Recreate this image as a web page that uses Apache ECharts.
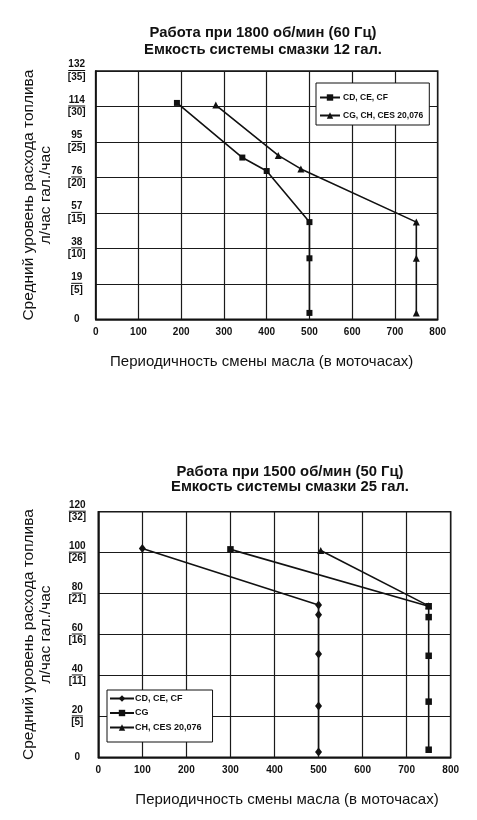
<!DOCTYPE html>
<html>
<head>
<meta charset="utf-8">
<script src="https://cdn.jsdelivr.net/npm/echarts@6/dist/echarts.min.js"></script>
<style>
    html, body { margin: 0; padding: 0; background: #fff; }
    .chart { width: 477px; height: 820px; }
</style>
</head>
<body>
<div class="chart"></div>
<script>
// верхний график: 1800 об/мин, ось Y в галлонах/час
var topLiterTicks = ['0', '19', '38', '57', '76', '95', '114', '132'];
var topGalTicks = ['', '[5]', '[10]', '[15]', '[20]', '[25]', '[30]', '[35]'];
var topCdX = [190, 343, 400, 500, 500, 500];
var topCdY = [30.5, 22.8, 20.9, 13.7, 8.6, 0.9];
var topCgX = [281, 427, 480, 750, 750, 750];
var topCgY = [30.2, 23.1, 21.2, 13.7, 8.6, 0.9];

// нижний график: 1500 об/мин, ось Y в литрах/час
var botLiterTicks = ['0', '20', '40', '60', '80', '100', '120'];
var botGalTicks = ['', '[5]', '[11]', '[16]', '[21]', '[26]', '[32]'];
var botCdX = [100, 500, 500, 500, 500, 500];
var botCdY = [102, 74.4, 69.7, 50.5, 25.1, 2.6];
var botCgX = [300, 750, 750, 750, 750, 750];
var botCgY = [101.6, 73.8, 68.5, 49.6, 27.2, 3.7];
var botChX = [505, 750];
var botChY = [101, 74];

var xTicks = [0, 100, 200, 300, 400, 500, 600, 700, 800];

var FONT = '"Liberation Sans", Arial, sans-serif';

function zip(xs, ys) {
    var out = [];
    for (var i = 0; i < xs.length; i++) out.push([xs[i], ys[i]]);
    return out;
}

function yLabel(liters, gals, step) {
    return function (v) {
        var i = Math.round(v / step);
        if (i === 0) return '{z|0}';
        var l = liters[i];
        return '{n|' + l + '}\n{u' + l.length + '|}\n{g|' + gals[i] + '}';
    };
}

var richY = {
    z: { fontFamily: FONT, fontWeight: 'bold', fontSize: 10, color: '#111', width: 22, align: 'center' },
    n: { fontFamily: FONT, fontWeight: 'bold', fontSize: 10, color: '#111', lineHeight: 10, width: 22, align: 'center' },
    g: { fontFamily: FONT, fontWeight: 'bold', fontSize: 10, color: '#111', lineHeight: 11, width: 22, align: 'center' },
    u1: { width: 6, height: 1, lineHeight: 2, backgroundColor: '#111', align: 'center' },
    u2: { width: 11, height: 1, lineHeight: 2, backgroundColor: '#111', align: 'center' },
    u3: { width: 17, height: 1, lineHeight: 2, backgroundColor: '#111', align: 'center' }
};

function xAxisCfg(gridIndex, namePad) {
    return {
        gridIndex: gridIndex,
        type: 'value',
        min: 0, max: 800, interval: 100,
        name: 'Периодичность смены масла (в моточасах)',
        nameLocation: 'middle',
        nameGap: 35,
        nameTextStyle: { fontFamily: FONT, fontSize: 15, color: '#111', padding: namePad },
        axisLine: { show: true, lineStyle: { color: '#111', width: 1.5 } },
        axisTick: { show: false },
        axisLabel: { fontFamily: FONT, fontWeight: 'bold', fontSize: 10, color: '#111', margin: 8,
            formatter: function (v) { return xTicks.indexOf(v) >= 0 ? String(v) : ''; } },
        splitLine: { show: true, lineStyle: { color: '#1a1a1a', width: 1.2 } }
    };
}

function yAxisCfg(gridIndex, max, step, liters, gals, nameGap, margin) {
    return {
        gridIndex: gridIndex,
        type: 'value',
        min: 0, max: max, interval: step,
        name: 'Средний уровень расхода топлива\nл/час гал./час',
        nameLocation: 'middle',
        nameGap: nameGap,
        nameTextStyle: { fontFamily: FONT, fontSize: 15.5, color: '#111', lineHeight: 17 },
        axisLine: { show: true, lineStyle: { color: '#111', width: 1.5 } },
        axisTick: { show: false },
        axisLabel: { margin: margin, formatter: yLabel(liters, gals, step), rich: richY },
        splitLine: { show: true, lineStyle: { color: '#1a1a1a', width: 1.2 } }
    };
}

function lineSeries(name, data, xi, symbol, size) {
    return {
        name: name,
        type: 'line',
        xAxisIndex: xi, yAxisIndex: xi,
        data: data,
        symbol: symbol,
        symbolSize: size,
        showAllSymbol: true,
        color: '#111',
        lineStyle: { color: '#111', width: 1.6 },
        itemStyle: { color: '#111' },
        animation: false
    };
}

var myChart = echarts.init(document.querySelector('.chart'), null, { renderer: 'canvas' });
var option = {
    backgroundColor: '#fff',
    animation: false,
    title: [
        {
            text: 'Работа при 1800 об/мин (60 Гц)\nЕмкость системы смазки 12 гал.',
            left: 258, top: 19, textAlign: 'center',
            textStyle: { fontFamily: FONT, fontWeight: 'bold', fontSize: 14.8, color: '#111', lineHeight: 17 }
        },
        {
            text: 'Работа при 1500 об/мин (50 Гц)\nЕмкость системы смазки 25 гал.',
            left: 285, top: 459, textAlign: 'center',
            textStyle: { fontFamily: FONT, fontWeight: 'bold', fontSize: 14.8, color: '#111', lineHeight: 15.5 }
        }
    ],
    legend: [
        {
            data: ['CD, CE, CF', 'CG, CH, CES 20,076'],
            orient: 'vertical',
            left: 316, top: 83,
            padding: [10, 6, 5, 3],
            itemGap: 9,
            itemWidth: 20, itemHeight: 8,
            borderColor: '#111', borderWidth: 1, borderRadius: 0,
            backgroundColor: '#fff',
            selectedMode: false,
            textStyle: { fontFamily: FONT, fontWeight: 'bold', fontSize: 8.5, color: '#111', padding: [0, 0, 0, -2] }
        },
        {
            data: ['CD, CE, CF\u200b', 'CG\u200b', 'CH, CES 20,076\u200b'],
            orient: 'vertical',
            left: 107, top: 690,
            padding: [4, 11, 10, 2],
            itemGap: 5.5,
            itemWidth: 24, itemHeight: 8,
            borderColor: '#111', borderWidth: 1, borderRadius: 0,
            backgroundColor: '#fff',
            selectedMode: false,
            textStyle: { fontFamily: FONT, fontWeight: 'bold', fontSize: 9, color: '#111', padding: [0, 0, 0, -4] }
        }
    ],
    grid: [
        { left: 95.7, top: 71, width: 342, height: 248.3, show: true, borderColor: '#111', borderWidth: 1.5, outerBoundsMode: 'none' },
        { left: 98.3, top: 511.7, width: 352.4, height: 245.6, show: true, borderColor: '#111', borderWidth: 1.5, outerBoundsMode: 'none' }
    ],
    xAxis: [xAxisCfg(0, [0, 10, 0, 0]), xAxisCfg(1, [0, 0, 0, 25])],
    yAxis: [
        yAxisCfg(0, 35, 5, topLiterTicks, topGalTicks, 41, 8),
        yAxisCfg(1, 120, 20, botLiterTicks, botGalTicks, 44, 10)
    ],
    series: [
        lineSeries('CD, CE, CF', zip(topCdX, topCdY), 0, 'rect', 6),
        lineSeries('CG, CH, CES 20,076', zip(topCgX, topCgY), 0, 'triangle', 7),
        lineSeries('CH, CES 20,076\u200b', zip(botChX, botChY), 1, 'triangle', 7),
        lineSeries('CD, CE, CF\u200b', zip(botCdX, botCdY), 1, 'diamond', [7, 9]),
        lineSeries('CG\u200b', zip(botCgX, botCgY), 1, 'rect', 6.5)
    ]
};
myChart.setOption(option);

window.addEventListener('resize', function () {
    myChart.resize();
});
</script>
</body>
</html>
